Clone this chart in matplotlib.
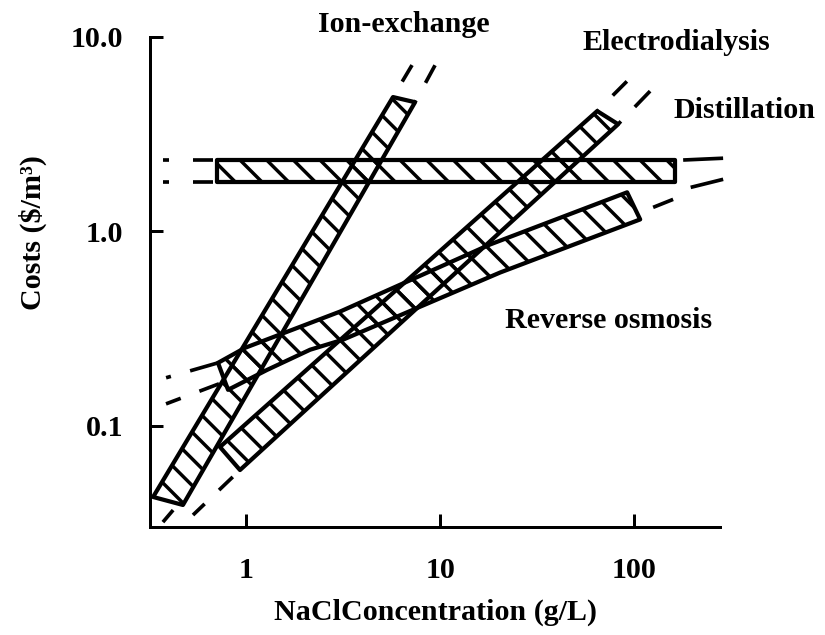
import matplotlib
matplotlib.use("Agg")
import matplotlib.pyplot as plt
from matplotlib.ticker import FixedLocator, FixedFormatter, NullLocator

# ---------------- data ----------------
conc_ticks = [1, 10, 100]
conc_tick_labels = ["1", "10", "100"]
cost_ticks = [0.1, 1.0, 10.0]
cost_tick_labels = ["0.1", "1.0", "10.0"]
conc_limits = [0.32, 277]
cost_limits = [0.0302, 10.0]

# Cost bands of each desalination process: upper and lower boundaries
ion_upper_conc = [0.332, 5.72]
ion_upper_cost = [0.0431, 4.91]
ion_lower_conc = [0.473, 7.43]
ion_lower_cost = [0.0392, 4.62]

ed_upper_conc = [0.734, 64.5]
ed_upper_cost = [0.0779, 4.16]
ed_lower_conc = [0.931, 82.7]
ed_lower_cost = [0.0593, 3.56]

dist_upper_conc = [0.709, 162.7]
dist_upper_cost = [2.32, 2.32]
dist_lower_conc = [0.709, 162.7]
dist_lower_cost = [1.79, 1.79]

ro_upper_conc = [0.717, 0.988, 3.05, 18.1, 92.0]
ro_upper_cost = [0.211, 0.252, 0.387, 0.857, 1.589]
ro_lower_conc = [0.808, 1.283, 2.138, 3.162, 20.4, 107.4]
ro_lower_cost = [0.1533, 0.194, 0.2464, 0.2776, 0.615, 1.153]

# Extrapolated (dashed) continuations: concentrations, costs
ion_ext_upper_conc, ion_ext_upper_cost = [5.72, 7.17], [4.91, 7.17]
ion_ext_lower_conc, ion_ext_lower_cost = [7.43, 9.43], [4.62, 7.17]
ion_ext_low_conc, ion_ext_low_cost = [0.421, 0.373], [0.0369, 0.0320]
ed_ext_upper_conc, ed_ext_upper_cost = [64.5, 92.0], [4.16, 5.93]
ed_ext_lower_conc, ed_ext_lower_cost = [82.7, 120.9], [3.56, 5.27]
ed_ext_low_conc, ed_ext_low_cost = [0.931, 0.533], [0.0593, 0.0348]
dist_ext_lh_conc, dist_ext_lh_cost = [0.709, 0.373], [2.32, 2.32]
dist_ext_ll_conc, dist_ext_ll_cost = [0.709, 0.373], [1.79, 1.79]
dist_ext_rh_conc, dist_ext_rh_cost = [162.7, 287.6], [2.32, 2.38]
dist_ext_rl_conc, dist_ext_rl_cost = [162.7, 287.6], [1.61, 1.854]
ro_ext_lh_conc, ro_ext_lh_cost = [0.717, 0.387], [0.211, 0.1768]
ro_ext_ll_conc, ro_ext_ll_cost = [0.726, 0.387], [0.1646, 0.1298]
ro_ext_r_conc, ro_ext_r_cost = [125.3, 158.8], [1.33, 1.462]

# ---------------- style ----------------
DPI = 80
PX = 72.0 / DPI  # points per pixel
plt.rcParams['font.family'] = ['Liberation Serif', 'DejaVu Serif']
plt.rcParams['font.weight'] = 'bold'
plt.rcParams['hatch.linewidth'] = 3.1
plt.rcParams['lines.scale_dashes'] = False
FS = 27
LW = 3.8

fig = plt.figure(figsize=(825 / DPI, 635 / DPI), dpi=DPI)
ax = fig.add_axes([150 / 825, 1 - 527 / 635, 570 / 825, 490 / 635])
ax.set_xscale('log')
ax.set_yscale('log')
ax.set_xlim(conc_limits)
ax.set_ylim(cost_limits)


def band(uc, uy, lc, ly):
    xs = list(uc) + list(lc)[::-1]
    ys = list(uy) + list(ly)[::-1]
    ax.fill(xs, ys, facecolor='none', edgecolor='black', hatch='\\',
            linewidth=LW, joinstyle='round')


def ext(conc, cost, lead=0.0, dash=None, gap=20.0, pattern=None):
    if pattern is not None:
        ls = (0, tuple(p * PX for p in pattern))
    elif dash is None:
        ls = '-'
    else:
        ls = ((dash + gap - lead) * PX, (dash * PX, gap * PX))
    ax.plot(conc, cost, color='black', linewidth=3.3, linestyle=ls,
            solid_capstyle='butt', dash_capstyle='butt', clip_on=False)


band(dist_upper_conc, dist_upper_cost, dist_lower_conc, dist_lower_cost)
band(ro_upper_conc, ro_upper_cost, ro_lower_conc, ro_lower_cost)
band(ed_upper_conc, ed_upper_cost, ed_lower_conc, ed_lower_cost)
band(ion_upper_conc, ion_upper_cost, ion_lower_conc, ion_lower_cost)

ext(ion_ext_upper_conc, ion_ext_upper_cost, lead=18, dash=20)
ext(ion_ext_lower_conc, ion_ext_lower_cost, lead=22, dash=20)
ext(ion_ext_low_conc, ion_ext_low_cost)
ext(ed_ext_upper_conc, ed_ext_upper_cost, lead=22, dash=20)
ext(ed_ext_lower_conc, ed_ext_lower_cost, lead=24, dash=22)
ext(ed_ext_low_conc, ed_ext_low_cost, lead=10, dash=19, gap=20)
ext(dist_ext_lh_conc, dist_ext_lh_cost, lead=4, dash=20, gap=24)
ext(dist_ext_ll_conc, dist_ext_ll_cost, lead=4, dash=20, gap=24)
ext(dist_ext_rh_conc, dist_ext_rh_cost, lead=8, dash=40, gap=20)
ext(dist_ext_rl_conc, dist_ext_rl_cost, lead=16, dash=40, gap=20)
ext(ro_ext_lh_conc, ro_ext_lh_cost, pattern=(29, 20, 5, 60))
ext(ro_ext_ll_conc, ro_ext_ll_cost, dash=21, gap=20)
ext(ro_ext_r_conc, ro_ext_r_cost)

# axes frame and ticks
for side in ('top', 'right'):
    ax.spines[side].set_visible(False)
for side in ('left', 'bottom'):
    ax.spines[side].set_linewidth(2.7)
ax.xaxis.set_major_locator(FixedLocator(conc_ticks))
ax.xaxis.set_major_formatter(FixedFormatter(conc_tick_labels))
ax.yaxis.set_major_locator(FixedLocator(cost_ticks))
ax.yaxis.set_major_formatter(FixedFormatter(cost_tick_labels))
ax.xaxis.set_minor_locator(NullLocator())
ax.yaxis.set_minor_locator(NullLocator())
ax.tick_params(axis='both', direction='in', length=12, width=2.7, labelsize=FS)
ax.tick_params(axis='x', pad=27)
ax.tick_params(axis='y', pad=24)
for lab in ax.get_xticklabels() + ax.get_yticklabels():
    lab.set_fontweight('bold')

fig.text(436 / 825, 1 - 612 / 635, "NaClConcentration (g/L)", ha='center', va='center',
         fontsize=FS, fontweight='bold')
fig.text(33 / 825, 1 - 233 / 635, "Costs ($/m³)", ha='center', va='center',
         rotation=90, fontsize=FS, fontweight='bold')

fig.text(404 / 825, 1 - 25 / 635, "Ion-exchange", ha='center', va='center',
         fontsize=FS, fontweight='bold')
fig.text(676 / 825, 1 - 43 / 635, "Electrodialysis", ha='center', va='center',
         fontsize=FS, fontweight='bold')
fig.text(744 / 825, 1 - 110 / 635, "Distillation", ha='center', va='center',
         fontsize=FS, fontweight='bold')
fig.text(609 / 825, 1 - 320 / 635, "Reverse osmosis", ha='center', va='center',
         fontsize=FS, fontweight='bold')

fig.savefig("out.png", dpi=DPI)
